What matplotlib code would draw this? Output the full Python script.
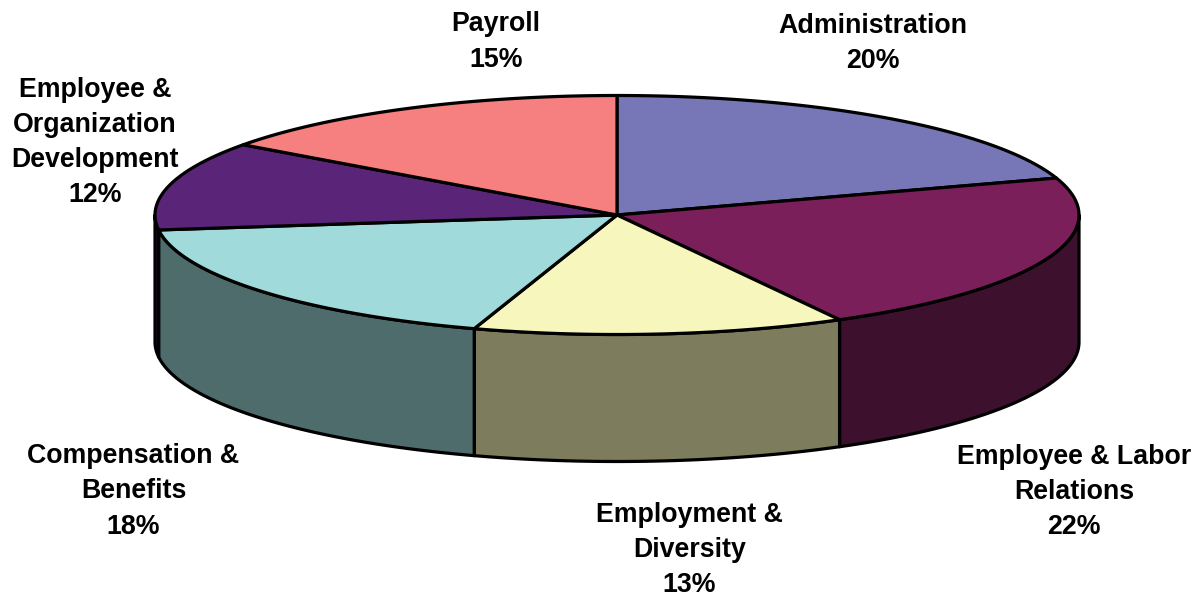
import numpy as np
import matplotlib
matplotlib.use("Agg")
import matplotlib.pyplot as plt

# Budget share by department, clockwise from twelve o'clock
departments = ["Administration", "Employee & Labor\nRelations", "Employment &\nDiversity",
               "Compensation &\nBenefits", "Employee &\nOrganization\nDevelopment", "Payroll"]
shares = [20, 22, 13, 18, 12, 15]
top_colors = ["#7777B7", "#7B1F5A", "#F7F6BC", "#A0DADA", "#5A2478", "#F67F7F"]
side_colors = ["#3C3C5C", "#3D102D", "#7D7C5C", "#4E6C6C", "#2D123C", "#7B4040"]

# Label anchor points in pixel coordinates
label_x = [872.5, 1074, 689.5, 133.5, 95, 496]
label_y = [43.5, 492, 550, 491.5, 142.5, 42]

# Pie geometry in pixel coordinates
CX, CY, RX, RY, DEPTH = 617, 215, 462, 119.5, 127
LW = 2.3

fig = plt.figure(figsize=(11.95, 5.95), dpi=100)
ax = fig.add_axes([0, 0, 1, 1])
ax.set_xlim(0, 1195)
ax.set_ylim(595, 0)
ax.axis("off")


def rim(a0, a1, drop=0.0):
    """Points along the ellipse between two clockwise angles measured from the top."""
    t = np.radians(np.linspace(a0, a1, max(int(abs(a1 - a0) * 2), 2)))
    return CX + RX * np.sin(t), CY - RY * np.cos(t) + drop


edges = np.concatenate([[0], np.cumsum(shares)]) * 360.0 / sum(shares)

# Outer wall: only the front half of the rim (90 to 270 degrees) is visible
for a0, a1, side in zip(edges[:-1], edges[1:], side_colors):
    lo, hi = max(a0, 90), min(a1, 270)
    if lo >= hi:
        continue
    x_top, y_top = rim(lo, hi)
    x_bot, y_bot = rim(lo, hi, DEPTH)
    ax.fill(np.r_[x_top, x_bot[::-1]], np.r_[y_top, y_bot[::-1]],
            facecolor=side, edgecolor="black", linewidth=LW, joinstyle="round", zorder=2)

# Top face of each slice
for a0, a1, top in zip(edges[:-1], edges[1:], top_colors):
    x, y = rim(a0, a1)
    ax.fill(np.r_[CX, x], np.r_[CY, y], facecolor=top, edgecolor="black",
            linewidth=LW, joinstyle="round", zorder=3)

for name, pct, lx, ly in zip(departments, shares, label_x, label_y):
    ax.text(lx, ly, f"{name}\n{pct}%", ha="center", va="center", ma="center",
            family="Liberation Sans", fontweight="bold", fontsize=19.3,
            linespacing=1.46, color="black", zorder=5)

fig.savefig("out.png", dpi=100, facecolor="white")
